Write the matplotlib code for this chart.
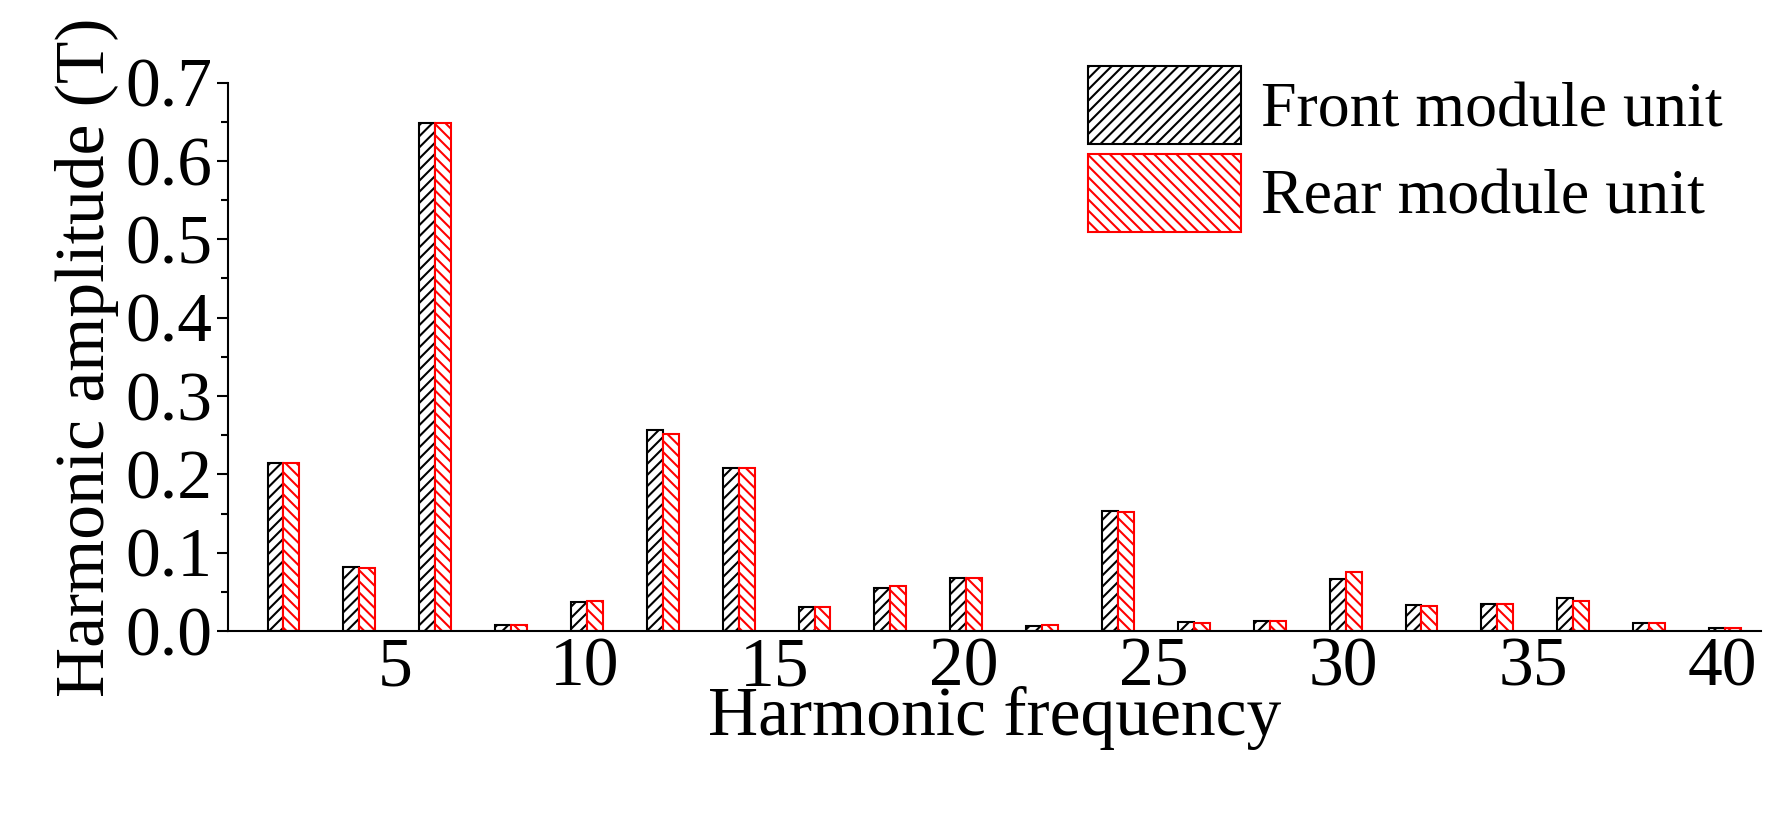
import numpy as np
import matplotlib.pyplot as plt
from matplotlib.ticker import MultipleLocator

plt.rcParams['font.family'] = ['Liberation Serif', 'DejaVu Serif']
plt.rcParams['hatch.linewidth'] = 1.5

harmonics = np.arange(2, 41, 2)
front = [0.215, 0.082, 0.648, 0.008, 0.037, 0.256, 0.208, 0.031, 0.055, 0.068,
         0.007, 0.153, 0.012, 0.013, 0.066, 0.033, 0.034, 0.042, 0.010, 0.004]
rear = [0.215, 0.080, 0.648, 0.008, 0.038, 0.252, 0.208, 0.031, 0.058, 0.068,
        0.008, 0.152, 0.010, 0.013, 0.075, 0.032, 0.034, 0.038, 0.010, 0.004]

fig = plt.figure(figsize=(17.82, 8.26), dpi=100)
ax = fig.add_axes([0.128, 0.236, 0.86, 0.664])

w = 0.42
ax.bar(harmonics - 0.15, front, width=w, facecolor='white', edgecolor='black',
       hatch='///', linewidth=1.5, label='Front module unit')
ax.bar(harmonics - 0.15 + w, rear, width=w, facecolor='white', edgecolor='red',
       hatch='\\\\\\', linewidth=1.5, label='Rear module unit')

ax.set_xlim(0.6, 41)
ax.set_ylim(0, 0.7)
ax.set_xticks([5, 10, 15, 20, 25, 30, 35, 40])
ax.yaxis.set_major_locator(MultipleLocator(0.1))
ax.yaxis.set_minor_locator(MultipleLocator(0.05))
ax.yaxis.set_major_formatter(plt.FuncFormatter(lambda v, p: f'{v:.1f}'))
ax.spines['top'].set_visible(False)
ax.spines['right'].set_visible(False)
for s in ['left', 'bottom']:
    ax.spines[s].set_linewidth(1.5)
ax.tick_params(axis='both', labelsize=50, width=1.5, length=8)
ax.tick_params(axis='y', which='minor', width=1.5, length=5, pad=4)
ax.tick_params(axis='x', length=0, pad=4)
ax.set_xlabel('Harmonic frequency', fontsize=50, labelpad=-10)
ax.set_ylabel('Harmonic amplitude (T)', fontsize=50, labelpad=4)

ax.legend(loc='upper right', bbox_to_anchor=(1.0, 1.1), frameon=False,
          fontsize=46, handlelength=2.4, handleheight=1.5, handletextpad=0.3,
          labelspacing=0.15, borderaxespad=0.2)

fig.savefig('out.png', dpi=100)
